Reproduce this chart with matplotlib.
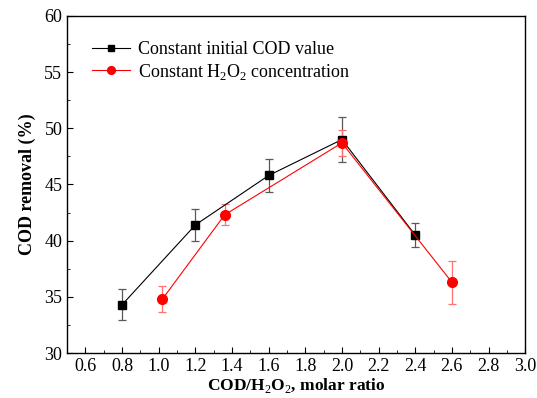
import numpy as np
import matplotlib.pyplot as plt
from matplotlib.ticker import MultipleLocator

plt.rcParams['font.family'] = 'Liberation Serif'
plt.rcParams['mathtext.fontset'] = 'custom'
plt.rcParams['mathtext.rm'] = 'Liberation Serif'
plt.rcParams['mathtext.bf'] = 'Liberation Serif:bold'

# constant initial COD value
x_cod = [0.8, 1.2, 1.6, 2.0, 2.4]
y_cod = [34.3, 41.4, 45.8, 49.0, 40.5]
e_cod = [1.4, 1.45, 1.5, 2.0, 1.1]

# constant H2O2 concentration
x_h2o2 = [1.02, 1.36, 2.0, 2.6]
y_h2o2 = [34.8, 42.3, 48.7, 36.3]
e_h2o2 = [1.15, 0.95, 1.15, 1.9]

fig = plt.figure(figsize=(5.37, 3.98), dpi=100)
ax = fig.add_axes([0.125, 0.113, 0.853, 0.847])

# error bars first, then lines+markers (legend only from lines)
ax.errorbar(x_cod, y_cod, yerr=e_cod, fmt='none', ecolor=(0.35, 0.35, 0.35),
            elinewidth=0.9, capsize=3, capthick=0.9, zorder=2)
ax.errorbar(x_h2o2, y_h2o2, yerr=e_h2o2, fmt='none', ecolor=(1, 0.45, 0.45),
            elinewidth=0.9, capsize=3, capthick=0.9, zorder=2)
ax.plot(x_cod, y_cod, color='black', lw=0.8, marker='s', ms=6,
        label='Constant initial COD value', zorder=3)
ax.plot(x_h2o2, y_h2o2, color='red', lw=0.8, marker='o', ms=7,
        label=r'Constant H$_2$O$_2$ concentration', zorder=4)

ax.set_xlim(0.5, 3.0)
ax.set_ylim(30, 60)
ax.xaxis.set_minor_locator(MultipleLocator(0.1))
ax.yaxis.set_major_locator(MultipleLocator(5))
ax.yaxis.set_minor_locator(MultipleLocator(2.5))
xt = np.arange(0.6, 3.01, 0.2)
ax.set_xticks(xt)
ax.set_xticklabels([f'{v:.1f}' for v in xt])
ax.tick_params(which='both', direction='in', top=False, right=False, labelsize=13)
ax.tick_params(which='major', length=4)
ax.tick_params(which='minor', length=2)
for s in ax.spines.values():
    s.set_linewidth(1.0)

ax.set_xlabel(r'COD/H$_2$O$_2$, molar ratio', fontsize=12.5, fontweight='bold', labelpad=1)
ax.set_ylabel('COD removal (%)', fontsize=13, fontweight='bold', labelpad=6)

ax.legend(loc='upper left', frameon=False, fontsize=13, handlelength=2.1,
          handletextpad=0.4, labelspacing=0.2, borderaxespad=1.0, markerscale=0.8)

fig.savefig('out.png', dpi=100)
